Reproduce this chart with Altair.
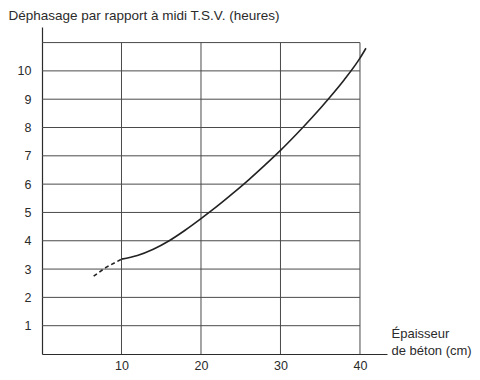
import altair as alt
import pandas as pd

# Data
solid_x = [10, 12, 14, 16, 18, 20, 22, 24, 26, 28, 30, 32, 34, 36, 38, 40, 40.75]
solid_y = [3.35, 3.48, 3.70, 4.00, 4.37, 4.78, 5.21, 5.67, 6.15, 6.66, 7.19, 7.76, 8.36, 9.0, 9.68, 10.45, 10.8]
dash_x = [6.5, 8, 10]
dash_y = [2.75, 3.05, 3.35]
grid_x = [10, 20, 30, 40]
grid_y = [1, 2, 3, 4, 5, 6, 7, 8, 9, 10, 11]
x_ticks = [10, 20, 30, 40]
y_ticks = [1, 2, 3, 4, 5, 6, 7, 8, 9, 10]
x_max, y_max = 40, 11

FONT = "Liberation Sans"
INK = "#2b2b2b"

solid = pd.DataFrame({"x": solid_x, "y": solid_y})
dash = pd.DataFrame({"x": dash_x, "y": dash_y})
vgrid = pd.DataFrame({"x": grid_x, "y0": [0] * len(grid_x), "y1": [y_max] * len(grid_x)})
hgrid = pd.DataFrame({"y": grid_y, "x0": [0] * len(grid_y), "x1": [x_max] * len(grid_y)})

xs = alt.Scale(domain=[0, 43.4], nice=False, zero=False)
ys = alt.Scale(domain=[0, 11.55], nice=False, zero=False)

xaxis = alt.Axis(
    values=x_ticks, grid=False, ticks=False, tickSize=0, labelPadding=5,
    labelOverlap=False, labelFlush=False,
    labelFont=FONT, labelFontSize=12.5, labelColor=INK,
    domainColor=INK, domainWidth=1.2,
    title=["Épaisseur", "de béton (cm)"], titleFont=FONT, titleFontSize=13,
    titleFontWeight="normal", titleColor=INK, titleAngle=0, titleAlign="left",
    titleBaseline="alphabetic", titleX=349, titleY=-17, titleLineHeight=17,
)
yaxis = alt.Axis(
    values=y_ticks, grid=False, ticks=False, tickSize=0, labelPadding=11,
    labelOverlap=False, labelFlush=False,
    labelFont=FONT, labelFontSize=12.5, labelColor=INK,
    domainColor=INK, domainWidth=1.2,
    title="Déphasage par rapport à midi T.S.V. (heures)", titleFont=FONT,
    titleFontSize=13.5, titleFontWeight="normal", titleColor=INK,
    titleAngle=0, titleAlign="left", titleBaseline="alphabetic",
    titleX=-34, titleY=-8,
)

vlines = alt.Chart(vgrid).mark_rule(color="#4a4a4a", strokeWidth=1).encode(
    x=alt.X("x:Q", scale=xs, axis=xaxis),
    y=alt.Y("y0:Q", scale=ys, axis=yaxis),
    y2="y1:Q",
)
hlines = alt.Chart(hgrid).mark_rule(color="#4a4a4a", strokeWidth=1).encode(
    y=alt.Y("y:Q", scale=ys, axis=yaxis),
    x=alt.X("x0:Q", scale=xs, axis=xaxis),
    x2="x1:Q",
)
solid_line = alt.Chart(solid).mark_line(color="#222222", strokeWidth=1.6, interpolate="monotone").encode(
    x=alt.X("x:Q", scale=xs, axis=xaxis), y=alt.Y("y:Q", scale=ys, axis=yaxis)
)
dash_line = alt.Chart(dash).mark_line(color="#222222", strokeWidth=1.6, strokeDash=[4, 3]).encode(
    x=alt.X("x:Q", scale=xs, axis=xaxis), y=alt.Y("y:Q", scale=ys, axis=yaxis)
)

chart = (
    alt.layer(hlines, vlines, dash_line, solid_line)
    .properties(
        width=345, height=327,
        autosize=alt.AutoSizeParams(type="none"),
        padding={"left": 34, "top": 19, "right": 85, "bottom": 18},
        background="white",
    )
    .configure_view(stroke=None)
)

chart.save("out.html", embed_options={"renderer": "svg", "actions": False})
